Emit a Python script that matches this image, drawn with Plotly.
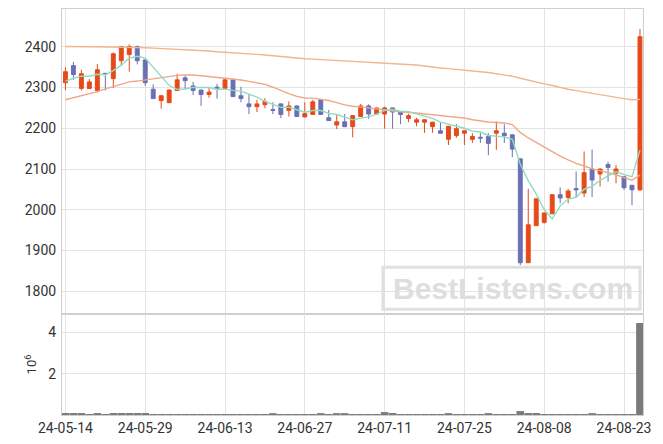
import plotly.graph_objects as go
from plotly.subplots import make_subplots

dates = ["2024-05-14", "2024-05-16", "2024-05-17", "2024-05-20", "2024-05-21", "2024-05-22", "2024-05-23",
         "2024-05-24", "2024-05-27", "2024-05-28", "2024-05-29", "2024-05-30", "2024-05-31", "2024-06-03",
         "2024-06-04", "2024-06-05", "2024-06-07", "2024-06-10", "2024-06-11", "2024-06-12", "2024-06-13",
         "2024-06-14", "2024-06-17", "2024-06-18", "2024-06-19", "2024-06-20", "2024-06-21", "2024-06-24",
         "2024-06-25", "2024-06-26", "2024-06-27", "2024-06-28", "2024-07-01", "2024-07-02", "2024-07-03",
         "2024-07-04", "2024-07-05", "2024-07-08", "2024-07-09", "2024-07-10", "2024-07-11", "2024-07-12",
         "2024-07-15", "2024-07-16", "2024-07-17", "2024-07-18", "2024-07-19", "2024-07-22", "2024-07-23",
         "2024-07-24", "2024-07-25", "2024-07-26", "2024-07-29", "2024-07-30", "2024-07-31", "2024-08-01",
         "2024-08-02", "2024-08-05", "2024-08-06", "2024-08-07", "2024-08-08", "2024-08-09", "2024-08-12",
         "2024-08-13", "2024-08-14", "2024-08-16", "2024-08-19", "2024-08-20", "2024-08-21", "2024-08-22",
         "2024-08-23", "2024-08-26", "2024-08-27"]

opens = [2312, 2354, 2298, 2298, 2293, 2335, 2322, 2366, 2381, 2401, 2368, 2296, 2268, 2263, 2293, 2324,
         2304, 2294, 2283, 2301, 2298, 2319, 2280, 2260, 2253, 2258, 2246, 2260, 2244, 2255, 2228, 2234,
         2270, 2226, 2208, 2216, 2204, 2229, 2255, 2235, 2235, 2250, 2240, 2224, 2215, 2215, 2204, 2194,
         2173, 2182, 2188, 2173, 2178, 2180, 2188, 2188, 2184, 2125, 1870, 1961, 1969, 1990, 2037, 2030,
         2052, 2041, 2100, 2088, 2111, 2090, 2081, 2060, 2049]
highs = [2350, 2363, 2344, 2321, 2358, 2336, 2386, 2402, 2406, 2403, 2369, 2308, 2281, 2295, 2334, 2330,
         2314, 2295, 2299, 2309, 2320, 2322, 2302, 2284, 2270, 2274, 2264, 2261, 2266, 2256, 2264, 2270,
         2271, 2245, 2235, 2235, 2232, 2260, 2259, 2251, 2253, 2251, 2241, 2236, 2226, 2222, 2216, 2215,
         2206, 2210, 2195, 2188, 2188, 2188, 2217, 2210, 2185, 2126, 2051, 2028, 1993, 2037, 2055, 2051,
         2094, 2143, 2148, 2101, 2118, 2110, 2082, 2061, 2444]
lows = [2294, 2319, 2293, 2297, 2288, 2293, 2299, 2353, 2339, 2357, 2304, 2272, 2248, 2262, 2292, 2296,
        2282, 2255, 2275, 2273, 2297, 2277, 2264, 2235, 2240, 2249, 2235, 2225, 2229, 2228, 2227, 2233,
        2233, 2218, 2198, 2203, 2178, 2228, 2223, 2234, 2199, 2199, 2210, 2215, 2205, 2189, 2189, 2187,
        2159, 2177, 2159, 2164, 2164, 2134, 2147, 2164, 2129, 1864, 1869, 1960, 1966, 1989, 2016, 2016,
        2031, 2031, 2031, 2057, 2069, 2065, 2049, 2011, 2046]
closes = [2339, 2332, 2334, 2314, 2344, 2333, 2383, 2401, 2401, 2366, 2312, 2273, 2280, 2294, 2319, 2317,
          2293, 2283, 2289, 2297, 2319, 2278, 2273, 2253, 2260, 2266, 2244, 2234, 2255, 2229, 2236, 2265,
          2234, 2219, 2216, 2204, 2231, 2255, 2235, 2250, 2250, 2240, 2234, 2231, 2221, 2221, 2215, 2188,
          2205, 2199, 2194, 2180, 2176, 2163, 2194, 2182, 2149, 1870, 1963, 2027, 1992, 2037, 2029, 2046,
          2049, 2091, 2073, 2100, 2104, 2100, 2054, 2049, 2425]

volumes = [95000, 95000, 95000, 5000, 95000, 5000, 95000, 95000, 95000, 95000, 95000, 5000, 5000, 5000,
           5000, 5000, 5000, 5000, 5000, 5000, 5000, 5000, 5000, 5000, 5000, 5000, 90000, 5000, 5000, 5000,
           5000, 5000, 90000, 5000, 90000, 90000, 5000, 5000, 5000, 5000, 140000, 95000, 5000, 5000, 5000,
           5000, 5000, 5000, 90000, 5000, 5000, 5000, 5000, 90000, 5000, 5000, 5000, 190000, 95000, 95000,
           5000, 5000, 5000, 5000, 5000, 5000, 90000, 5000, 5000, 5000, 5000, 5000, 4460000]

ma5 = [2316, 2323, 2328, 2328, 2332.6, 2331.4, 2341.6, 2355, 2372.4, 2376.8, 2372.6, 2350.6, 2326.4, 2305,
       2295.6, 2296.6, 2300.6, 2301.2, 2300.2, 2295.8, 2296.2, 2293.2, 2291.2, 2284, 2276.6, 2266, 2259.2,
       2251.4, 2251.8, 2245.6, 2239.6, 2243.8, 2243.8, 2236.6, 2234, 2227.6, 2220.8, 2225, 2228.2, 2235,
       2244.2, 2246, 2241.8, 2241, 2235.2, 2229.4, 2224.4, 2215.2, 2210, 2205.6, 2200.2, 2193.2, 2190.8,
       2182.4, 2181.4, 2179, 2172.8, 2111.6, 2071.6, 2038.2, 2000.2, 1977.8, 2009.6, 2026.2, 2030.6, 2050.4,
       2057.6, 2071.8, 2083.4, 2093.6, 2086.2, 2081.4, 2146.4]
ma20 = [2270, 2275, 2280, 2285, 2290, 2297, 2303, 2309, 2314, 2316, 2319, 2321, 2324, 2328, 2330, 2331,
        2331, 2329, 2327, 2325.2, 2324.2, 2321.5, 2318.5, 2315.4, 2311.2, 2307.9, 2300.9, 2292.6, 2285.3,
        2278.4, 2274.6, 2274.2, 2271.9, 2268.2, 2263, 2257.4, 2254.3, 2252.9, 2250.2, 2247.8, 2244.4, 2242.5,
        2240.5, 2239.4, 2237.5, 2235.2, 2233.8, 2231.5, 2229, 2227.5, 2225.4, 2221.1, 2218.2, 2215.4, 2214.3,
        2213.2, 2209.1, 2189.9, 2176.3, 2165.1, 2152.2, 2142.1, 2131.8, 2122.6, 2114, 2107.5, 2100.4, 2096,
        2090.9, 2086, 2079, 2072.4, 2084.9]
ma_long = [2401, 2401, 2400.5, 2400, 2400, 2400, 2399.5, 2399, 2399, 2398.5, 2398, 2397, 2396, 2395, 2394.5,
           2394, 2393, 2392, 2390, 2388, 2387, 2386, 2384.5, 2383, 2381.5, 2380, 2378, 2376.5, 2375, 2373,
           2371, 2370, 2369, 2368, 2367, 2366, 2365, 2363.5, 2362, 2361, 2360, 2359, 2358, 2357, 2355.5, 2353,
           2350, 2348, 2346.5, 2345, 2343, 2341, 2339, 2337, 2334, 2331, 2328, 2323, 2318, 2313, 2309, 2305,
           2300, 2296, 2292.5, 2289, 2285.5, 2282, 2279, 2276, 2273, 2270, 2271]

tick_dates = ["2024-05-14", "2024-05-29", "2024-06-13", "2024-06-27", "2024-07-11", "2024-07-25",
              "2024-08-08", "2024-08-23"]
tick_labels = ["24-05-14", "24-05-29", "24-06-13", "24-06-27", "24-07-11", "24-07-25", "24-08-08", "24-08-23"]
price_ticks = [1800, 1900, 2000, 2100, 2200, 2300, 2400]
vol_ticks = [2e6, 4e6]
vol_tick_labels = ["2", "4"]

for arr in (opens, highs, lows, closes, volumes, ma5, ma20, ma_long):
    assert len(arr) == len(dates), len(arr)

UP = "#e64a19"
DOWN = "#6b70b3"
GRID = "#e3e3e3"
LINE = "#cfcfcf"

fig = make_subplots(rows=2, cols=1, shared_xaxes=True, vertical_spacing=0)

fig.add_trace(go.Scatter(x=dates, y=ma_long, mode="lines", line=dict(color="#f0b68c", width=1.4),
                         showlegend=False, hoverinfo="skip"), row=1, col=1)
fig.add_trace(go.Scatter(x=dates, y=ma20, mode="lines", line=dict(color="#f2a688", width=1.4),
                         showlegend=False, hoverinfo="skip"), row=1, col=1)
fig.add_trace(go.Scatter(x=dates, y=ma5, mode="lines", line=dict(color="#8fdcc2", width=1.4),
                         showlegend=False, hoverinfo="skip"), row=1, col=1)
fig.add_trace(go.Candlestick(x=dates, open=opens, high=highs, low=lows, close=closes,
                             increasing=dict(line=dict(color=UP, width=1), fillcolor=UP),
                             decreasing=dict(line=dict(color=DOWN, width=1), fillcolor=DOWN),
                             showlegend=False), row=1, col=1)
fig.add_trace(go.Bar(x=dates, y=volumes, marker=dict(color="#7a7a7a", line=dict(width=0)),
                     showlegend=False), row=2, col=1)

axis_common = dict(type="category", range=[-0.43, 72.38], tickvals=tick_dates, showgrid=True,
                   gridcolor=GRID, gridwidth=1, showline=True, linecolor=LINE, mirror=True,
                   zeroline=False, ticks="")
fig.update_layout(
    width=663, height=444,
    margin=dict(l=54, r=28, t=1, b=37),
    paper_bgcolor="white", plot_bgcolor="white",
    font=dict(family="Roboto", size=14, color="#333333"),
    bargap=0.04,
    xaxis=dict(**axis_common, showticklabels=False, rangeslider=dict(visible=False)),
    xaxis2=dict(**axis_common, ticktext=tick_labels, showticklabels=True),
    yaxis=dict(domain=[0.2488, 1], range=[1744, 2493], tickvals=price_ticks, showgrid=True,
               gridcolor=GRID, showline=True, linecolor=LINE, mirror=True, zeroline=False, ticks="",
               ticklabelstandoff=2),
    yaxis2=dict(domain=[0, 0.2488], range=[0, 4.9e6], tickvals=vol_ticks, ticktext=vol_tick_labels,
                showgrid=True, gridcolor=GRID, showline=True, linecolor=LINE, mirror=True,
                zeroline=False, ticks="", ticklabelstandoff=2,
                title=dict(text="10<sup>6</sup>", font=dict(size=13), standoff=8)),
)

fig.add_shape(type="rect", xref="paper", yref="paper", x0=0.5525, x1=0.9948, y0=0.2603, y1=0.3638,
              line=dict(color="#e0e0e0", width=3), fillcolor="rgba(0,0,0,0)", layer="above")
fig.add_annotation(xref="paper", yref="paper", x=0.776, y=0.312, xanchor="center", yanchor="middle",
                   text="<b>BestListens.com</b>", showarrow=False,
                   font=dict(family="Liberation Sans", size=30, color="#dedede"))

fig.write_html("out.html")
